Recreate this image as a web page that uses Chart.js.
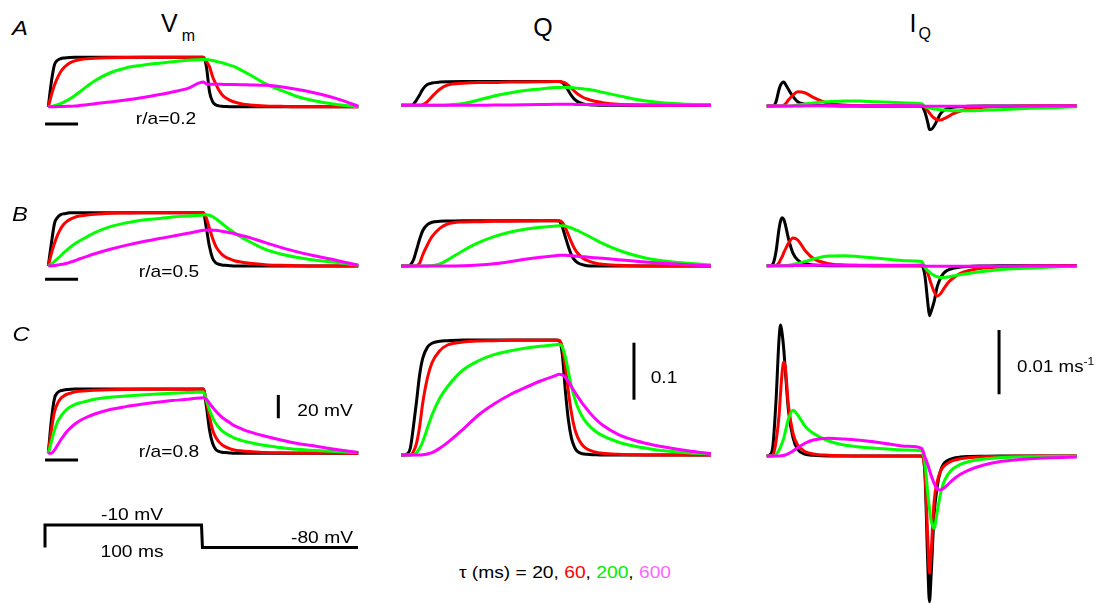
<!DOCTYPE html>
<html><head><meta charset="utf-8">
<script src="https://cdn.jsdelivr.net/npm/chart.js@4.4.1/dist/chart.umd.min.js"></script>
<style>
html,body{margin:0;padding:0;background:#fff;}
#fig{position:relative;width:1102px;height:603px;overflow:hidden;background:#fff;font-family:"Liberation Sans",Arial,sans-serif;color:#000;}
canvas{position:absolute;}
.t{position:absolute;white-space:nowrap;line-height:1;}
</style></head><body><div id="fig"></div>
<script>
// ---------- data ----------
const TAUS = [20, 60, 200, 600];                 // tau (ms)
const COLORS = ['#000000', '#ff0000', '#00ff00', '#ff00ff'];
const T_VQ = [0,2,4,6,8,10,12,14,17,20,25,30,40,50,60,70,80,90,100,102,104,106,108,110,112,114,117,120,125,130,140,150,160,170,185,200];
const T_I  = [0,2,4,6,8,9,10,11,12,14,17,20,25,30,40,50,60,70,80,90,100,102,104,105,106,108,110,112,114,117,120,125,130,140,150,160,170,185,200];

// Vm (mV)
const vmA20  = [-80,-58.6,-44.0,-40.2,-38.9,-38.3,-38.0,-37.8,-37.7,-37.7,-37.7,-37.7,-37.7,-37.7,-37.7,-37.7,-37.7,-37.7,-37.7,-45.7,-67.1,-75.7,-78.3,-79.3,-79.7,-79.8,-80,-80,-80,-80,-80,-80,-80,-80,-80,-80];
const vmA60  = [-80,-70.0,-61.4,-55.1,-50.0,-46.6,-44.3,-42.5,-40.8,-39.7,-38.9,-38.4,-38.0,-37.8,-37.7,-37.7,-37.7,-37.7,-37.7,-41.4,-45.7,-54.3,-60.3,-65.7,-69.5,-72.0,-74.3,-76.0,-77.7,-78.5,-79.4,-79.7,-80,-80,-80,-80];
const vmA200 = [-80,-79.7,-79.1,-78.3,-77.3,-76.1,-74.7,-73.1,-70.6,-67.6,-62.4,-57.7,-50.9,-46.8,-44.6,-42.9,-41.4,-40.3,-39.5,-39.5,-39.9,-40.4,-41.0,-41.7,-42.3,-43.1,-44.4,-45.7,-49.1,-52.6,-60.3,-65.9,-71.0,-74.4,-77.9,-80];
const vmA600 = [-80,-80,-80,-79.9,-79.9,-79.8,-79.7,-79.7,-79.4,-79.0,-78.3,-77.4,-76.0,-74.3,-72.3,-70.0,-67.4,-64.3,-58.8,-60.5,-60.7,-60.8,-60.8,-60.8,-60.8,-61.0,-61.0,-61.0,-61.1,-61.3,-61.7,-62.9,-65.0,-67.6,-72.7,-79.6];
const vmB20  = [-80,-60.5,-43.4,-38.3,-36.0,-35.2,-34.8,-34.4,-34.3,-34.3,-34.3,-34.3,-34.3,-34.3,-34.3,-34.3,-34.3,-34.3,-34.3,-47.7,-63.5,-73.4,-77.2,-78.5,-79.1,-79.4,-79.7,-80,-80,-80,-80,-80,-80,-80,-80,-80];
const vmB60  = [-80,-69.1,-60.5,-53.4,-48.0,-44.3,-41.7,-40.0,-38.3,-37.2,-36.3,-35.6,-34.8,-34.6,-34.4,-34.4,-34.4,-34.4,-34.3,-39.1,-47.7,-56.3,-62.9,-67.1,-70.0,-72.0,-74.0,-75.5,-76.8,-77.7,-78.9,-79.4,-79.7,-80,-80,-80];
const vmB200 = [-80,-78.3,-76.0,-73.7,-71.2,-68.6,-66.3,-64.0,-61.1,-58.6,-54.9,-51.5,-46.3,-43.1,-40.8,-39.5,-38.0,-37.2,-36.3,-36.0,-36.5,-37.7,-39.5,-41.4,-43.6,-45.7,-48.7,-51.5,-55.7,-59.2,-65.7,-69.7,-72.5,-74.6,-76.8,-79.4];
const vmB600 = [-80,-79.8,-79.6,-79.1,-78.7,-78.3,-77.7,-76.8,-75.5,-74.0,-71.7,-69.5,-65.7,-62.3,-59.4,-56.9,-54.5,-52.0,-49.4,-49.1,-49.1,-49.3,-49.4,-49.7,-50.2,-50.6,-51.5,-52.3,-54.0,-55.7,-60.0,-64.0,-67.7,-70.8,-74.9,-79.4];
const vmC20  = [-80,-51.5,-32.9,-28.0,-26.3,-25.8,-25.4,-25.2,-24.9,-24.9,-24.9,-24.9,-24.9,-24.9,-24.9,-24.9,-24.9,-24.9,-24.9,-40.0,-60.0,-71.4,-76.6,-78.3,-79.1,-79.4,-79.7,-80,-80,-80,-80,-80,-80,-80,-80,-80];
const vmC60  = [-80,-60.0,-44.3,-37.2,-33.1,-30.9,-29.4,-28.6,-27.5,-26.9,-26.3,-26.0,-25.6,-25.3,-25.2,-25.2,-25.2,-25.2,-25.0,-35.7,-48.5,-60.0,-66.3,-70.0,-72.5,-74.3,-76.0,-77.2,-78.0,-78.5,-79.3,-79.6,-79.7,-79.8,-79.8,-80];
const vmC200 = [-80,-70.0,-60.0,-52.8,-48.5,-45.1,-42.3,-40.3,-38.3,-36.9,-35.2,-33.7,-32.0,-30.9,-30.0,-29.2,-28.6,-28.0,-27.5,-34.3,-42.9,-49.4,-54.3,-57.7,-60.5,-62.6,-64.8,-66.9,-69.1,-70.8,-73.4,-75.1,-76.6,-77.4,-78.5,-79.4];
const vmC600 = [-80,-80,-77.2,-72.9,-68.6,-64.8,-61.4,-58.6,-55.1,-52.3,-48.9,-46.3,-42.5,-40.0,-38.0,-36.3,-34.8,-33.7,-32.3,-33.7,-37.2,-40.6,-43.7,-46.6,-49.1,-51.1,-53.7,-56.3,-59.2,-61.7,-65.4,-68.6,-71.4,-73.4,-76.6,-79.4];

// Q (normalised charge)
const qA20  = [0,0,0,0,0.0018,0.0093,0.0181,0.0281,0.0363,0.0391,0.0407,0.0412,0.0416,0.0416,0.0416,0.0416,0.0416,0.0416,0.0416,0.0416,0.0398,0.0339,0.0258,0.0170,0.0105,0.0065,0.0030,0.0012,0.0004,0,0,0,0,0,0,0];
const qA60  = [0,0,0,0,0,0,0,0.0012,0.0065,0.0153,0.0281,0.0356,0.0386,0.0398,0.0400,0.0407,0.0409,0.0412,0.0416,0.0416,0.0409,0.0391,0.0351,0.0298,0.0246,0.0198,0.0146,0.0111,0.0070,0.0047,0.0018,0.0005,0,0,0,0];
const qA200 = [0,0,0,0,0,0,0,0,0,0,0,0.0004,0.0030,0.0093,0.0163,0.0216,0.0258,0.0286,0.0311,0.0312,0.0316,0.0316,0.0312,0.0311,0.0304,0.0298,0.0289,0.0281,0.0258,0.0228,0.0170,0.0111,0.0070,0.0040,0.0018,0.0005];
const qA600 = [0,0,0,0,0,0,0,0,0,0,0,0,0,0.0002,0.0004,0.0006,0.0009,0.0013,0.0018,0.0018,0.0018,0.0018,0.0018,0.0018,0.0016,0.0016,0.0016,0.0016,0.0015,0.0013,0.0010,0.0007,0.0005,0.0003,0.0001,0];
const qB20  = [0,0,0,0.0018,0.0105,0.0281,0.0468,0.0619,0.0725,0.0767,0.0784,0.0789,0.0795,0.0795,0.0795,0.0795,0.0795,0.0795,0.0795,0.0789,0.0689,0.0514,0.0339,0.0193,0.0105,0.0058,0.0023,0.0005,0,0,0,0,0,0,0,0];
const qB60  = [0,0,0,0,0,0.0005,0.0047,0.0193,0.0368,0.0514,0.0661,0.0737,0.0772,0.0777,0.0784,0.0786,0.0789,0.0793,0.0795,0.0793,0.0767,0.0679,0.0544,0.0416,0.0304,0.0223,0.0146,0.0100,0.0053,0.0030,0.0012,0.0004,0,0,0,0];
const qB200 = [0,0,0,0,0,0,0,0,0.0002,0.0005,0.0035,0.0105,0.0268,0.0409,0.0514,0.0591,0.0644,0.0679,0.0702,0.0707,0.0707,0.0702,0.0684,0.0667,0.0644,0.0619,0.0579,0.0539,0.0468,0.0398,0.0281,0.0193,0.0128,0.0088,0.0047,0.0018];
const qB600 = [0,0,0,0,0,0,0,0,0,0,0,0.0001,0.0005,0.0018,0.0040,0.0075,0.0118,0.0153,0.0181,0.0188,0.0188,0.0188,0.0184,0.0181,0.0175,0.0170,0.0163,0.0158,0.0146,0.0135,0.0111,0.0088,0.0065,0.0047,0.0023,0.0005];
const qC20  = [0,0,0.0020,0.0118,0.0496,0.0935,0.1404,0.1696,0.1889,0.1960,0.1995,0.2005,0.2018,0.2018,0.2018,0.2018,0.2018,0.2018,0.2018,0.2005,0.1784,0.1140,0.0614,0.0293,0.0135,0.0058,0.0023,0.0012,0.0005,0,0,0,0,0,0,0];
const qC60  = [0,0,0,0,0.0058,0.0205,0.0496,0.0907,0.1346,0.1619,0.1830,0.1930,0.1982,0.2000,0.2005,0.2012,0.2014,0.2014,0.2014,0.2012,0.1900,0.1549,0.1110,0.0732,0.0468,0.0311,0.0175,0.0105,0.0053,0.0030,0.0012,0.0005,0,0,0,0];
const qC200 = [0,0,0,0,0.0005,0.0040,0.0118,0.0233,0.0468,0.0702,0.0995,0.1198,0.1491,0.1654,0.1760,0.1825,0.1872,0.1907,0.1935,0.1942,0.1900,0.1725,0.1461,0.1198,0.0995,0.0837,0.0672,0.0556,0.0426,0.0339,0.0228,0.0158,0.0111,0.0075,0.0040,0.0018];
const qC600 = [0,0,0,0,0,0,0,0.0004,0.0018,0.0040,0.0118,0.0216,0.0451,0.0702,0.0895,0.1053,0.1181,0.1298,0.1398,0.1416,0.1404,0.1363,0.1286,0.1198,0.1111,0.1023,0.0907,0.0802,0.0644,0.0526,0.0363,0.0263,0.0193,0.0140,0.0075,0.0023];

// IQ (ms^-1)
const iA20  = [0,0,0,0.00067,0.00260,0.00327,0.00362,0.00373,0.00342,0.00260,0.00145,0.00067,0.00026,0.00011,0.00005,0,0,0,0,0,0,-0.00089,-0.00265,-0.00365,-0.00365,-0.00311,-0.00218,-0.00124,-0.00073,-0.00036,-0.00020,-0.00011,-0.00005,0,0,0,0,0,0];
const iA60  = [0,0,0,0,0,0,0,0.00011,0.00031,0.00093,0.00171,0.00222,0.00202,0.00135,0.00042,0.00016,0.00005,0,0,0,0,-0.00020,-0.00078,-0.00109,-0.00140,-0.00187,-0.00213,-0.00218,-0.00202,-0.00166,-0.00124,-0.00078,-0.00047,-0.00020,-0.00011,-0.00005,0,0,0];
const iA200 = [0,0,0,0,0,0,0,0,0,0,0.00005,0.00016,0.00031,0.00047,0.00067,0.00078,0.00078,0.00067,0.00058,0.00047,0.00036,-0.00011,-0.00026,-0.00031,-0.00036,-0.00047,-0.00051,-0.00058,-0.00062,-0.00067,-0.00073,-0.00073,-0.00073,-0.00067,-0.00058,-0.00047,-0.00036,-0.00026,-0.00011];
const iA600 = [0,0,0,0,0,0,0,0,0,0,0,0,0.00002,0.00003,0.00005,0.00005,0.00005,0.00005,0.00005,0.00005,0.00005,-0.00003,-0.00004,-0.00004,-0.00004,-0.00004,-0.00004,-0.00004,-0.00004,-0.00004,-0.00004,-0.00004,-0.00004,-0.00004,-0.00003,-0.00003,-0.00002,-0.00001,0];
const iB20  = [0,0,0.00026,0.00218,0.00580,0.00700,0.00747,0.00720,0.00642,0.00425,0.00191,0.00089,0.00031,0.00011,0,0,0,0,0,0,0,-0.00145,-0.00591,-0.00778,-0.00715,-0.00560,-0.00327,-0.00198,-0.00120,-0.00067,-0.00042,-0.00020,-0.00011,-0.00005,0,0,0,0,0];
const iB60  = [0,0,0,0.00005,0.00047,0.00098,0.00140,0.00202,0.00253,0.00347,0.00431,0.00400,0.00229,0.00114,0.00031,0.00011,0.00005,0,0,0,0,-0.00026,-0.00120,-0.00198,-0.00275,-0.00404,-0.00471,-0.00440,-0.00369,-0.00264,-0.00198,-0.00120,-0.00078,-0.00036,-0.00020,-0.00011,-0.00005,0,0];
const iB200 = [0,0,0,0,0,0,0,0.00002,0.00003,0.00008,0.00020,0.00036,0.00067,0.00104,0.00151,0.00156,0.00140,0.00120,0.00098,0.00078,0.00067,-0.00026,-0.00078,-0.00098,-0.00120,-0.00151,-0.00171,-0.00182,-0.00182,-0.00176,-0.00160,-0.00140,-0.00120,-0.00089,-0.00062,-0.00047,-0.00036,-0.00020,-0.00011];
const iB600 = [0,0,0,0,0,0,0,0,0,0,0.00001,0.00002,0.00004,0.00006,0.00008,0.00008,0.00008,0.00008,0.00008,0.00008,0.00009,-0.00004,-0.0001,-0.0001,-0.0001,-0.0001,-0.0001,-0.0001,-0.0001,-0.0001,-0.0001,-0.0001,-0.0001,-0.00009,-0.00008,-0.00007,-0.00006,-0.00004,-0.00003];
const iC20  = [0,0.00016,0.00156,0.00855,0.01835,0.02037,0.01897,0.01664,0.01337,0.00715,0.00280,0.00101,0.00026,0.00011,0,0,0,0,0,0,0,-0.00244,-0.01742,-0.02266,-0.01897,-0.00918,-0.00477,-0.00244,-0.00129,-0.00067,-0.00036,-0.00016,-0.00008,-0.00003,0,0,0,0,0];
const iC60  = [0,0,0.00016,0.00222,0.00638,0.01000,0.01311,0.01462,0.01384,0.00793,0.00353,0.00171,0.00067,0.00031,0.00011,0.00003,0,0,0,0,0,-0.00218,-0.01333,-0.01824,-0.01540,-0.00711,-0.00400,-0.00244,-0.00166,-0.00109,-0.00073,-0.00042,-0.00026,-0.00012,-0.00008,-0.00005,-0.00003,0,0];
const iC200 = [0,0,0,0.00020,0.00093,0.00145,0.00207,0.00275,0.00378,0.00575,0.00711,0.00638,0.00456,0.00353,0.00233,0.00171,0.00140,0.00120,0.00104,0.00093,0.00082,-0.00089,-0.00607,-0.00813,-0.00995,-0.01124,-0.00866,-0.00607,-0.00425,-0.00285,-0.00202,-0.00129,-0.00089,-0.00047,-0.00026,-0.00016,-0.00011,-0.00005,-0.00003];
const iC600 = [0,0,0,0,0,0.00003,0.00005,0.00011,0.00016,0.00036,0.00078,0.00129,0.00202,0.00249,0.00275,0.00264,0.00244,0.00218,0.00182,0.00151,0.00120,-0.00011,-0.00140,-0.00218,-0.00295,-0.00425,-0.00513,-0.00529,-0.00502,-0.00440,-0.00373,-0.00285,-0.00222,-0.00140,-0.00089,-0.00062,-0.00042,-0.00026,-0.00016];

// voltage protocol
const PROTO_T = [0, 0, 100, 100.6, 200];
const PROTO_V = [-80, -10, -10, -80, -80];

// scale bars (data units)
const TIMEBAR_T = [-2.1, 19.2];            // ~20 ms
const TIMEBAR_VM = [-94.8, -91.4, -85.7];  // level under each Vm row
const VBAR_VM = [148.4, -50, -30];         // 20 mV
const VBAR_Q  = [150.3, 0.097, 0.197];     // 0.1
const VBAR_IQ = [149.9, 0.0096, 0.0196];   // 0.01 ms^-1

// ---------- drawing ----------
const fig = document.getElementById('fig');
const M = 8;

function addPanel(box, g, datasets) {
  const [L, T, W, H] = box;
  const c = document.createElement('canvas');
  c.width = W; c.height = H;
  c.style.left = L + 'px'; c.style.top = T + 'px';
  c.style.width = W + 'px'; c.style.height = H + 'px';
  fig.appendChild(c);
  const xMin = (L + M - g.x0) / g.pxms, xMax = (L + W - M - g.x0) / g.pxms;
  const yMax = g.baseVal + (g.base - (T + M)) / g.k;
  const yMin = g.baseVal - (T + H - M - g.base) / g.k;
  new Chart(c, {
    type: 'line',
    data: { datasets },
    options: {
      responsive: false, animation: false, events: [], devicePixelRatio: 1,
      layout: { padding: M },
      plugins: { legend: { display: false }, tooltip: { enabled: false }, title: { display: false } },
      scales: {
        x: { type: 'linear', min: xMin, max: xMax, display: false },
        y: { type: 'linear', min: yMin, max: yMax, display: false }
      },
      elements: { point: { radius: 0 }, line: { borderWidth: 3 } }
    }
  });
}
function traces(times, arrs) {
  return arrs.map((vals, i) => ({
    label: 'tau=' + TAUS[i],
    data: times.map((t, j) => ({ x: t, y: vals[j] })),
    borderColor: COLORS[i], borderWidth: 3, cubicInterpolationMode: 'monotone',
    pointRadius: 0, clip: false, fill: false, order: 4 - i
  }));
}
function bar(xs, ys) {
  return { data: xs.map((x, j) => ({ x: x, y: ys[j] })), borderColor: '#000', borderWidth: 3,
           tension: 0, pointRadius: 0, clip: false, fill: false, order: 0 };
}

const GV = { x0: 48.3, pxms: 1.55, k: 1.167, baseVal: -80 };
const GQ = { x0: 401, pxms: 1.55, k: 570, baseVal: 0 };
const GI = { x0: 766.7, pxms: 1.55, k: 6430, baseVal: 0 };

const VM = [[vmA20, vmA60, vmA200, vmA600], [vmB20, vmB60, vmB200, vmB600], [vmC20, vmC60, vmC200, vmC600]];
const QQ = [[qA20, qA60, qA200, qA600], [qB20, qB60, qB200, qB600], [qC20, qC60, qC200, qC600]];
const II = [[iA20, iA60, iA200, iA600], [iB20, iB60, iB200, iB600], [iC20, iC60, iC200, iC600]];

const vmBase = [106.7, 266, 453.3], qBase = [105.3, 266, 455], iBase = [106, 265.7, 456];
const vmBox = [[28, 45, 345, 95], [28, 195, 345, 95], [28, 375, 345, 95]];
const qBox  = [[380, 65, 345, 55], [380, 205, 345, 75], [380, 325, 345, 145]];
const iBox  = [[745, 70, 345, 75], [745, 200, 345, 130], [745, 312, 345, 291]];

for (let r = 0; r < 3; r++) {
  const vds = traces(T_VQ, VM[r]);
  vds.push(bar(TIMEBAR_T, [TIMEBAR_VM[r], TIMEBAR_VM[r]]));
  if (r === 2) vds.push(bar([VBAR_VM[0], VBAR_VM[0]], [VBAR_VM[1], VBAR_VM[2]]));
  addPanel(vmBox[r], Object.assign({ base: vmBase[r] }, GV), vds);

  const qds = traces(T_VQ, QQ[r]);
  if (r === 2) qds.push(bar([VBAR_Q[0], VBAR_Q[0]], [VBAR_Q[1], VBAR_Q[2]]));
  addPanel(qBox[r], Object.assign({ base: qBase[r] }, GQ), qds);

  const ids = traces(T_I, II[r]);
  if (r === 2) ids.push(bar([VBAR_IQ[0], VBAR_IQ[0]], [VBAR_IQ[1], VBAR_IQ[2]]));
  addPanel(iBox[r], Object.assign({ base: iBase[r] }, GI), ids);
}
// protocol
addPanel([30, 512, 345, 48], { x0: 45, pxms: 1.565, k: 0.3214, baseVal: -80, base: 547.5 },
  [{ data: PROTO_T.map((t, j) => ({ x: t, y: PROTO_V[j] })), borderColor: '#000', borderWidth: 3,
     tension: 0, pointRadius: 0, clip: false, fill: false }]);

// ---------- text ----------
function txt(html, cx, cy, size, extra) {
  const d = document.createElement('div');
  d.className = 't';
  d.innerHTML = html;
  d.style.left = cx + 'px'; d.style.top = cy + 'px';
  d.style.fontSize = size + 'px';
  d.style.transform = 'translate(-50%,-50%) scaleX(1.13)';
  if (extra) Object.assign(d.style, extra);
  fig.appendChild(d);
  return d;
}
function txtAt(html, left, top, size, scale) {
  const d = document.createElement('div');
  d.className = 't';
  d.innerHTML = html;
  d.style.left = left + 'px'; d.style.top = top + 'px';
  d.style.fontSize = size + 'px';
  if (scale) { d.style.transform = 'scaleX(' + scale + ')'; d.style.transformOrigin = 'left center'; }
  fig.appendChild(d);
  return d;
}
txt('A', 20, 27, 21, { fontStyle: 'italic' });
txt('B', 20, 213, 21, { fontStyle: 'italic' });
txt('C', 21, 333, 21, { fontStyle: 'italic' });

txtAt('V<span style="font-size:16px;position:relative;top:9px;margin-left:4px">m</span>', 161, 11, 25);
txt('Q', 543, 27, 25, { transform: 'translate(-50%,-50%)' });
txtAt('I<span style="font-size:16px;position:relative;top:7px;margin-left:2px">Q</span>', 909.5, 11, 25);

txt('r/a=0.2', 166, 117.5, 17);
txt('r/a=0.5', 168.7, 271, 17);
txt('r/a=0.8', 168.7, 450.5, 17);

txt('20 mV', 324.7, 409.5, 17);
txt('0.1', 663.5, 377, 17);
txtAt('0.01 ms<span style="font-size:11px;position:relative;top:-7px">-1</span>', 1016.7, 358, 17, 1.1);

txt('-10 mV', 131.7, 514, 17);
txt('100 ms', 131.7, 551, 17);
txt('-80 mV', 322, 536.5, 17);

txt('τ (ms) = 20, <span style="color:#ff0000">60</span>, <span style="color:#00ee00">200</span>, <span style="color:#ff66ff">600</span>', 564.5, 572, 17);
</script></body></html>
